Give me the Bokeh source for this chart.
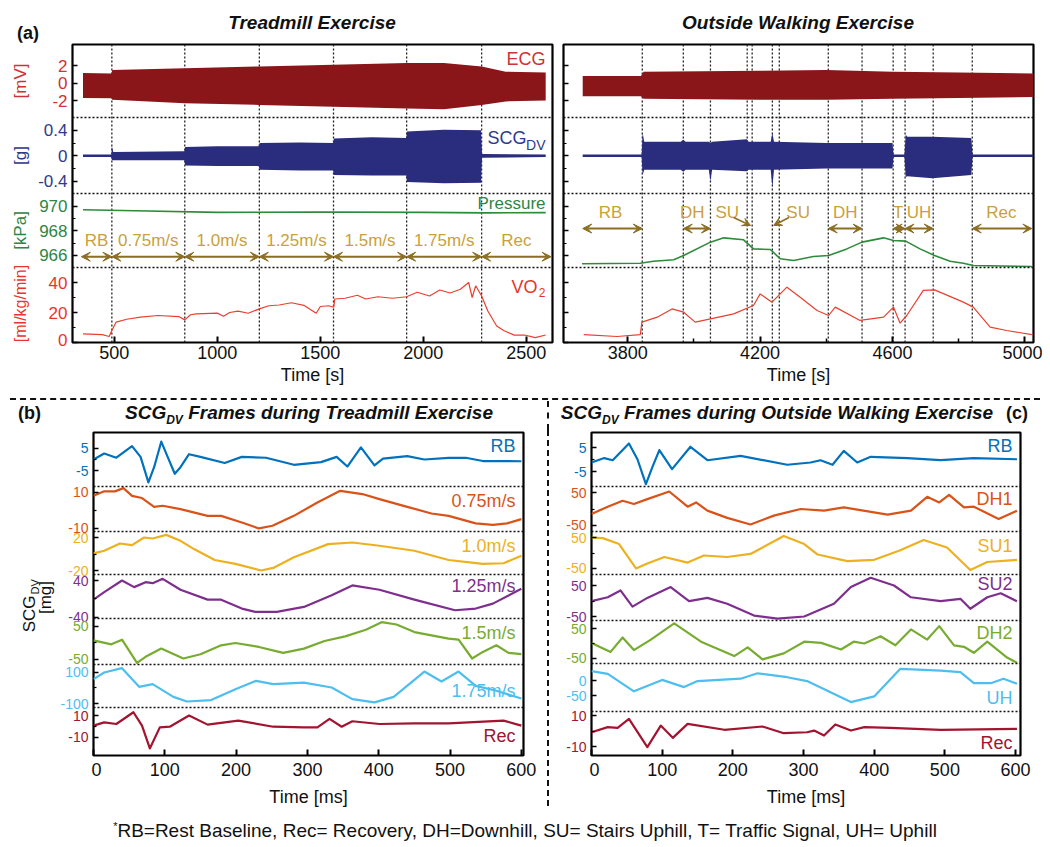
from bokeh.plotting import figure
from bokeh.layouts import column, row
from bokeh.models import (Range1d, FixedTicker, Span, Label, Arrow, VeeHead,
                          ColumnDataSource, Div, LinearAxis)
from bokeh.embed import file_html
from bokeh.resources import INLINE
from bokeh.core.properties import value
import math

FONT = "Liberation Sans"

# ======================= DATA =======================
# ---- (a) Treadmill exercise ----
tm_bounds = [488, 842, 1204, 1564, 1919, 2283]
tm_arrow_edges = [340, 488, 842, 1204, 1564, 1919, 2283, 2620]
tm_stages = ["RB", "0.75m/s", "1.0m/s", "1.25m/s", "1.5m/s", "1.75m/s", "Rec"]
tm_ecg_t = [348, 486, 490, 842, 1204, 1564, 1919, 2100, 2283, 2400, 2594]
tm_ecg_hi = [1.14, 1.1, 1.5, 1.7, 1.9, 2.1, 2.3, 2.3, 1.9, 1.3, 1.2]
tm_ecg_lo = [-1.7, -1.75, -1.9, -2.3, -2.5, -2.7, -2.9, -3.0, -2.5, -2.1, -2.0]
tm_scg_t = [348, 486, 488, 495, 840, 844, 1000, 1200, 1206, 1400, 1562, 1566, 1750, 1917, 1921, 2100, 2280, 2285, 2594]
tm_scg_hi = [0.02, 0.02, 0.15, 0.06, 0.07, 0.14, 0.15, 0.15, 0.2, 0.21, 0.2, 0.27, 0.29, 0.28, 0.38, 0.41, 0.4, 0.03, 0.02]
tm_scg_lo = [-0.02, -0.02, -0.07, -0.07, -0.07, -0.15, -0.16, -0.16, -0.22, -0.23, -0.23, -0.3, -0.31, -0.31, -0.41, -0.43, -0.42, -0.03, -0.02]
tm_p_t = [348, 600, 1000, 1500, 2000, 2300, 2594]
tm_p_v = [969.73, 969.65, 969.52, 969.55, 969.52, 969.48, 969.5]
tm_vo2_t = [348, 441, 475, 488, 509, 560, 627, 712, 813, 842, 870, 898, 1000, 1030, 1060, 1101, 1150,
            1204, 1250, 1300, 1360, 1420, 1480, 1500, 1540, 1565, 1570, 1620, 1680, 1720, 1780, 1850,
            1919, 1970, 2030, 2080, 2130, 2180, 2220, 2237, 2254, 2283, 2313, 2356, 2390, 2441, 2492,
            2543, 2594]
tm_vo2_v = [5.8, 5.3, 4.0, 8.0, 13.6, 15.5, 16.9, 18.0, 17.3, 15.1, 18.5, 19.1, 19.6, 17.5, 20.0, 20.9, 19.5,
            22.4, 24.5, 25.0, 26.5, 24.8, 19.5, 24.0, 24.5, 23.5, 29.0, 29.5, 31.5, 29.0, 30.5, 29.5,
            30.5, 33.5, 31.0, 35.0, 33.0, 35.5, 40.0, 30.0, 37.8, 31.0, 21.0, 11.0, 8.0, 4.9, 5.0,
            3.3, 5.0]

# ---- (a) Outside walking exercise ----
ow_bounds = [3844, 3968, 4050, 4161, 4176, 4237, 4258, 4406, 4508, 4602, 4638, 4723, 4841]
ow_arrow_x0 = [3664, 3968, 4406, 4602, 4638, 4841]
ow_arrow_x1 = [3844, 4050, 4508, 4638, 4723, 5021]
ow_su_x0 = [4120, 4287]
ow_su_y0 = [969.1, 969.1]
ow_su_x1 = [4171, 4241]
ow_su_y1 = [968.45, 968.45]
ow_stages = ["RB", "DH", "SU", "SU", "DH", "T", "UH", "Rec"]
ow_stage_x = [3748, 3995, 4101, 4315, 4457, 4617, 4680, 4929]
ow_ecg_t = [3664, 3840, 3848, 4200, 4400, 4600, 4800, 5026]
ow_ecg_hi = [0.8, 0.8, 1.3, 1.4, 1.5, 1.3, 1.2, 1.1]
ow_ecg_lo = [-1.5, -1.5, -1.8, -1.9, -1.9, -1.8, -1.7, -1.6]
ow_scg_t = [3664, 3842, 3845, 3850, 3960, 3968, 3975, 4045, 4050, 4055, 4160, 4165, 4232, 4237, 4242,
            4400, 4600, 4603, 4636, 4640, 4645, 4720, 4838, 4842, 5026]
ow_scg_hi = [0.02, 0.02, 0.36, 0.22, 0.22, 0.25, 0.22, 0.22, 0.2, 0.22, 0.26, 0.22, 0.22, 0.36, 0.22,
             0.2, 0.2, 0.02, 0.02, 0.33, 0.3, 0.3, 0.28, 0.02, 0.02]
ow_scg_lo = [-0.02, -0.02, -0.3, -0.22, -0.22, -0.25, -0.22, -0.22, -0.4, -0.22, -0.24, -0.22, -0.22, -0.5, -0.22,
             -0.2, -0.2, -0.02, -0.02, -0.33, -0.32, -0.35, -0.3, -0.02, -0.02]
ow_p_t = [3662, 3838, 3878, 3939, 3969, 4050, 4090, 4150, 4180, 4231, 4261, 4301, 4361, 4407, 4462,
          4508, 4573, 4603, 4640, 4683, 4727, 4774, 4814, 4844, 5021]
ow_p_v = [965.32, 965.37, 965.53, 965.65, 966.0, 967.09, 967.44, 967.28, 966.54, 966.49, 965.73, 965.59,
          965.92, 966.0, 966.54, 967.09, 967.44, 967.22, 967.17, 966.54, 966.0, 965.53, 965.37, 965.18, 965.1]
ow_vo2_t = [3667, 3768, 3838, 3843, 3889, 3934, 3969, 4004, 4050, 4120, 4180, 4200, 4236, 4281, 4321,
            4372, 4407, 4427, 4502, 4573, 4603, 4623, 4643, 4693, 4727, 4814, 4844, 4895, 4945, 5021]
ow_vo2_v = [5.3, 4.0, 5.3, 13.6, 16.9, 22.4, 20.2, 13.6, 15.8, 19.1, 24.7, 32.4, 26.9, 36.9, 30.2,
            21.3, 18.0, 23.6, 14.7, 16.9, 23.6, 12.9, 18.0, 34.7, 35.1, 26.9, 23.6, 10.2, 8.0, 5.3]

# ---- (b) SCG frames, treadmill (ms, mg) ----
tm_names = ["RB", "0.75m/s", "1.0m/s", "1.25m/s", "1.5m/s", "1.75m/s", "Rec"]
tm_rb_t = [0, 15, 32, 54, 66, 77, 85, 95, 105, 114, 122, 134, 150, 184, 208, 242, 281, 319, 341, 356, 375, 394, 406, 440, 464, 498, 522, 546, 600]
tm_rb_v = [0, 2.7, 0.8, 6.1, 1.2, -10.4, -3.5, 8.1, 0.4, -6.5, -3.5, 2.4, 1.2, -1.6, 1.2, 0.8, -2.4, -1.2, 1.2, -3.2, 5.5, -2.7, 0.4, 1.5, 0, 0.7, 0.8, -0.7, -0.8]
tm_075_t = [0, 15, 30, 42, 54, 68, 85, 97, 122, 160, 179, 208, 232, 251, 281, 314, 346, 377, 401, 440, 474, 498, 536, 560, 580, 600]
tm_075_v = [8.1, 10.6, 10.6, 12.4, 8.1, 6.9, 2.0, 2.6, 0.7, -3.0, -3.0, -6.7, -10, -8.5, -3.0, 4.4, 10.9, 9.1, 6.3, 2.0, -1.7, -3.0, -7.2, -8.0, -7.2, -4.8]
tm_10_t = [0, 15, 37, 54, 71, 83, 102, 122, 141, 170, 199, 235, 252, 281, 329, 363, 401, 450, 498, 546, 575, 600]
tm_10_v = [0.8, 4, 12.8, 10.8, 20, 18.8, 23.2, 16, 6, -7.2, -12, -20, -16.8, -4, 12, 14, 10, 4, -7.2, -12, -11.2, -2]
tm_125_t = [0, 15, 40, 57, 73, 83, 97, 122, 160, 179, 208, 227, 257, 295, 334, 363, 401, 450, 507, 536, 560, 600]
tm_125_v = [-1.4, 15, 40, 25.7, 36.4, 34.3, 43.6, 20, -1.4, -1.4, -20.7, -27.9, -27.9, -17.1, 7.9, 29.3, 20, -1.4, -24.3, -20.7, -10, 22]
tm_15_t = [0, 25, 40, 61, 73, 95, 126, 150, 179, 199, 232, 266, 295, 324, 353, 382, 404, 425, 450, 498, 512, 531, 546, 565, 582, 600]
tm_15_v = [8, -4, 10, -60, -42, -17, -47, -34, -7, 0, -12, -30, -17, 6, 20, 40, 63, 56, 33, 13, 10, -47, -27, -7, -30, -34]
tm_175_t = [0, 15, 40, 64, 83, 112, 131, 165, 199, 228, 252, 295, 334, 363, 394, 421, 464, 488, 512, 536, 565, 600]
tm_175_v = [57, 100, 128, 7.5, 25, -57, -87, -78, -7.5, 46, 25, 35, 3, -72, -93, -57, 106, 42, 106, 14, -18, -68]
tm_rec_t = [0, 15, 32, 56, 68, 79, 93, 107, 134, 160, 203, 252, 295, 314, 331, 348, 363, 401, 450, 498, 575, 600]
tm_rec_v = [0.8, 3.8, 2.3, 13, 0.8, -20, -0.8, -0.2, 10, 1.7, 5.4, -0.2, -0.8, -0.8, 6.9, -0.2, 4.8, 2.3, 2.9, 2.9, 5.4, 0.8]
tm_ticks = [[-5, 5], [-10, 10], [-20, 20], [-40, 40], [-50, 50], [-100, 100], [-10, 10]]

# ---- (c) SCG frames, outside walking (ms, mg) ----
ow_names = ["RB", "DH1", "SU1", "SU2", "DH2", "UH", "Rec"]
ow_rb_t = [0, 18, 30, 53, 65, 77, 86, 96, 114, 140, 164, 211, 277, 310, 324, 341, 357, 376, 395, 447, 494, 541, 602]
ow_rb_v = [-1.25, 0.6, -0.3, 6.7, 0.1, -10.3, -3.3, 3.9, -4, 5.3, -0.3, 1.5, -2.2, -1.25, -0.3, -2.2, 3.6, -1.25, 1.1, 0.6, -0.3, 0.6, 0.1]
ow_dh1_t = [0, 23, 44, 60, 79, 110, 136, 148, 164, 192, 225, 258, 296, 329, 357, 419, 452, 475, 492, 506, 527, 541, 576, 602]
ow_dh1_v = [-15, 7, 25, 15, 30, 53, 7, 20, -5, -27, -47, -20, 0, -5, 5, -17, -5, 37, 20, 43, 5, 7, -30, -5]
ow_su1_t = [0, 16, 39, 63, 79, 103, 136, 159, 192, 225, 272, 301, 320, 362, 400, 436, 470, 503, 536, 560, 602]
ow_su1_v = [50, 48, 29, -50, -34, -13, -31, -8, -13, -3, 55, 29, -5, -26, -22, 8, 42, 18, -55, -29, -22]
ow_su2_t = [0, 23, 41, 58, 79, 112, 138, 164, 192, 230, 263, 301, 343, 367, 395, 428, 452, 494, 522, 536, 560, 579, 602]
ow_su2_v = [-0.5, 12, 34, -18, 10, 45, -0.5, 10, -9, -47, -57, -50, -9, 45, 75, 50, 12, -0.5, 7, -25, 12, 25, -0.5]
ow_dh2_t = [0, 27, 44, 60, 84, 117, 155, 202, 221, 242, 272, 301, 325, 353, 371, 386, 409, 430, 452, 475, 492, 513, 527, 541, 560, 588, 602]
ow_dh2_v = [2, -28, 20, -22, 13, 67, 6, -42, -13, -53, -33, 6, 2, -20, 6, 0, 24, -6, 47, 13, 58, -6, -11, -31, 6, -47, -64]
ow_uh_t = [0, 23, 60, 100, 131, 150, 211, 235, 277, 305, 367, 400, 437, 494, 522, 541, 565, 583, 602]
ow_uh_v = [31, 22, -36, 2, -22, -2, 6, 24, 11, -2, -72, -53, 39, 33, 28, -9, -9, 6, -11]
ow_rec_t = [0, 23, 37, 53, 79, 98, 115, 136, 188, 242, 272, 305, 315, 329, 345, 367, 386, 423, 494, 602]
ow_rec_v = [-0.8, 2.5, 2.0, 7.8, -10.4, 3.5, -4.4, 4.6, 0.8, 2.9, -1.4, -0.8, 0.3, -2.9, 4.2, 0.3, 2.5, 2.0, 0.8, 1.4]
ow_ticks = [[-5, 5], [-50, 50], [-50, 50], [-50, 50], [-50, 50], [-50, 0], [-10, 10]]

top_x_ticks_tm = [500, 1000, 1500, 2000, 2500]
top_x_ticks_ow = [3800, 4200, 4600, 5000]
top_x_minor_ow = [4000, 4400, 4800]
ms_ticks = [0, 100, 200, 300, 400, 500, 600]

# ======================= STYLE / LAYOUT =======================
C_ECG, C_ECG_T = "#8A161A", "#CC3333"
C_SCG, C_SCG_T = "#2A2C7E", "#2E3A8C"
C_PR, C_PR_T = "#2E8B3A", "#2E8545"
C_VO, C_VO_T = "#E8402F", "#E8352B"
C_ARW, C_STG = "#8C6E22", "#C9A13C"
MCOL = ["#0072BD", "#D95319", "#EDB120", "#7E2F8E", "#77AC30", "#4DBEEE", "#A2142F"]

TOP_H, TOP_MB = 298, 56
top_keys = ["ecg", "scg", "p", "vo2"]
top_px = {"ecg": (225, 298), "scg": (149, 225), "p": (75, 149), "vo2": (0, 75)}
top_rng = {"ecg": (-3.94, 4.4), "scg": (-0.59, 0.60), "p": (965.02, 971.06), "vo2": (0.0, 50.0)}
top_ticks = {"ecg": [-2, 0, 2], "scg": [-0.4, 0, 0.4], "p": [966, 968, 970], "vo2": [0, 20, 40]}
top_minor = {"ecg": [], "scg": [-0.2, 0.2], "p": [967, 969], "vo2": [10, 30]}
top_tcol = {"ecg": C_ECG_T, "scg": C_SCG_T, "p": C_PR_T, "vo2": C_VO_T}
top_units = {"ecg": "[mV]", "scg": "[g]", "p": "[kPa]", "vo2": "[ml/kg/min]"}

BOT_H, BOT_MB = 323, 60
bl_px = [(269, 323), (224, 269), (181, 224), (137, 181), (91, 137), (48, 91), (0, 48)]
bl_rng = [(-12.27, 12.27), (-11.7, 13.3), (-24.8, 27.3), (-42.2, 53.0), (-65.2, 74.2), (-125.8, 151.6), (-26.4, 17.3)]
bl_lab_dy = [13, 14, 14, 11, 14, 26, 28]
br_px = [(269, 323), (224, 269), (181, 224), (135, 181), (92, 135), (44, 92), (0, 44)]
br_rng = [(-11.25, 11.25), (-68.2, 68.2), (-69.4, 69.4), (-62.9, 85.5), (-66.7, 76.7), (-103.3, 56.7), (-15.8, 12.6)]
br_lab_dy = [13, 12, 14, 9, 12, 34, 31]


def fmt(v):
    return "%g" % v


def full_range(H, px, rng):
    b, t = px
    lo, hi = rng
    s = (hi - lo) / (t - b)
    return Range1d(start=lo - b * s, end=hi + (H - t) * s)


def base_fig(width, height, xr, H, ml, mr, mt, mb):
    p = figure(width=width, height=height, x_range=Range1d(*xr), y_range=Range1d(0, H),
               y_axis_type=None, output_backend="svg", toolbar_location=None,
               min_border_left=ml, min_border_right=mr, min_border_top=mt, min_border_bottom=mb)
    p.outline_line_color = "black"
    p.outline_line_width = 2.2
    p.background_fill_color = "white"
    p.border_fill_color = "white"
    p.xgrid.visible = False
    return p


def strip_fig(W, mt, H, mb, pxs, rngs, keys, with_xaxis=False):
    """Narrow figure left of a panel carrying its tick labels and axis titles
    (same frame height as the panel, same band scales)."""
    s = figure(width=W, height=mt + H + mb, x_range=Range1d(0, W), y_range=Range1d(0, H),
               x_axis_type=("linear" if with_xaxis else None), y_axis_type=None,
               output_backend="svg", toolbar_location=None,
               min_border_left=0, min_border_right=0, min_border_top=mt, min_border_bottom=mb)
    s.outline_line_color = None
    s.background_fill_color = "white"
    s.border_fill_color = "white"
    s.xgrid.visible = False
    s.extra_y_ranges = {k: full_range(H, pxs[i], rngs[i]) for i, k in enumerate(keys)}
    return s


def strip_ticks(s, key, ticks, color, size, xpos):
    s.text(x=[xpos] * len(ticks), y=ticks, text=[fmt(v) for v in ticks], y_range_name=key,
           text_align="right", text_baseline="middle", text_font=value(FONT),
           text_font_size=size, text_color=color)


def strip_text(s, x, y, text, color, size, align="center", angle=0.0):
    s.text(x=[x], y=[y], text=[text], angle=angle, text_align=align, text_baseline="middle",
           text_font=value(FONT), text_font_size=size, text_color=color)


def add_band_axis(p, key, ticks, minor):
    ax = LinearAxis(y_range_name=key, ticker=FixedTicker(ticks=ticks, minor_ticks=minor),
                    axis_line_color=None, major_tick_in=5, major_tick_out=0,
                    minor_tick_in=3, minor_tick_out=0, major_tick_line_width=1.6,
                    minor_tick_line_width=1.2, major_label_text_font_size="0px",
                    major_label_standoff=0)
    ax.major_label_overrides = {v: "" for v in ticks}
    p.add_layout(ax, "left")


def style_xaxis(p, ticks, minor, label, tsize, lsize, tstand, lstand):
    xa = p.xaxis[0]
    xa.ticker = FixedTicker(ticks=ticks, minor_ticks=minor)
    xa.axis_line_color = None
    xa.major_tick_in = 6
    xa.major_tick_out = 0
    xa.minor_tick_in = 4
    xa.minor_tick_out = 0
    xa.major_tick_line_width = 2
    xa.minor_tick_line_width = 1.5
    xa.major_label_text_font = FONT
    xa.major_label_text_font_size = tsize
    xa.major_label_text_color = "#111111"
    xa.major_label_standoff = tstand
    xa.axis_label = label
    xa.axis_label_text_font = FONT
    xa.axis_label_text_font_size = lsize
    xa.axis_label_text_font_style = "normal"
    xa.axis_label_text_color = "#111111"
    xa.axis_label_standoff = lstand


def sep_spans(p, bottoms):
    for b in bottoms:
        if b > 0:
            p.add_layout(Span(location=b, dimension="width", line_color="#111111",
                              line_width=1.6, line_dash="2 2"))


def vert_spans(p, xs):
    for x in xs:
        p.add_layout(Span(location=x, dimension="height", line_color="#222222",
                          line_width=1.3, line_dash="2 2", level="underlay"))


def top_panel(width, ml, mr, xr):
    p = base_fig(width, 2 + TOP_H + TOP_MB, xr, TOP_H, ml, mr, 2, TOP_MB)
    p.extra_y_ranges = {k: full_range(TOP_H, top_px[k], top_rng[k]) for k in top_keys}
    for k in top_keys:
        add_band_axis(p, k, top_ticks[k], top_minor[k])
    sep_spans(p, [top_px[k][0] for k in top_keys])
    return p


# ---------------- top-left strip (tick labels + units) ----------------
sa = strip_fig(62, 2, TOP_H, TOP_MB, [top_px[k] for k in top_keys], [top_rng[k] for k in top_keys],
               top_keys, with_xaxis=True)
for k in top_keys:
    lo_k = top_rng[k][0]
    inner = [v for v in top_ticks[k] if not (top_px[k][0] == 0 and v == lo_k)]
    strip_ticks(sa, k, inner, top_tcol[k], "17px", 59)
    b, t = top_px[k]
    strip_text(sa, 12, (b + t) / 2 + (1.5 if b == 0 else 0), top_units[k], top_tcol[k],
               "16px" if b == 0 else "17px", angle=math.pi / 2)
# the bottom-most tick label ("0" of VO2) sits on the frame edge: drawn by the strip's x-axis
sx = sa.xaxis[0]
sx.ticker = FixedTicker(ticks=[54.3])
sx.major_label_overrides = {54.3: fmt(top_ticks["vo2"][0])}
sx.axis_line_color = None
sx.major_tick_line_color = None
sx.minor_tick_line_color = None
sx.major_tick_out = 0
sx.major_tick_in = 0
sx.major_label_text_font = FONT
sx.major_label_text_font_size = "17px"
sx.major_label_text_color = C_VO_T
try:
    sx.major_label_standoff = -9
except Exception:
    sx.major_label_standoff = 0

# ---------------- top-left: treadmill ----------------
XR_TM = (297, 2627)
XR_OW = (3606, 5026)
pa = top_panel(486, 2, 4, XR_TM)
vert_spans(pa, tm_bounds)
pa.varea(x=tm_ecg_t, y1=tm_ecg_lo, y2=tm_ecg_hi, fill_color=C_ECG, y_range_name="ecg")
pa.varea(x=tm_scg_t, y1=tm_scg_lo, y2=tm_scg_hi, fill_color=C_SCG, y_range_name="scg")
pa.line(tm_p_t, tm_p_v, line_color=C_PR, line_width=1.6, y_range_name="p")
pa.line(tm_vo2_t, tm_vo2_v, line_color=C_VO, line_width=1.2, y_range_name="vo2")
tm_mid = [(a + b) / 2 for a, b in zip(tm_arrow_edges[:-1], tm_arrow_edges[1:])]
pa.text(x=tm_mid, y=[967.25] * len(tm_mid), text=tm_stages, y_range_name="p",
        text_align="center", text_baseline="middle", text_font=value(FONT),
        text_font_size="17px", text_color=C_STG)
src_a = ColumnDataSource(dict(x0=tm_arrow_edges[:-1], x1=tm_arrow_edges[1:], y=[965.9] * len(tm_mid)))
pa.add_layout(Arrow(x_start="x0", y_start="y", x_end="x1", y_end="y", source=src_a,
                    start=VeeHead(size=9, fill_color=C_ARW, line_color=C_ARW),
                    end=VeeHead(size=9, fill_color=C_ARW, line_color=C_ARW),
                    line_color=C_ARW, line_width=2, y_range_name="p"))
style_xaxis(pa, top_x_ticks_tm, [], "Time [s]", "18px", "18px", 3, 3)
# band names
pa.add_layout(Label(x=XR_TM[1], y=284, x_offset=-7, text="ECG", text_align="right", text_baseline="middle",
                    text_color=C_ECG_T, text_font=FONT, text_font_size="18px"))
pa.add_layout(Label(x=XR_TM[1], y=205, x_offset=-26, text="SCG", text_align="right", text_baseline="middle",
                    text_color=C_SCG_T, text_font=FONT, text_font_size="18px"))
pa.add_layout(Label(x=XR_TM[1], y=198, x_offset=-7, text="DV", text_align="right", text_baseline="middle",
                    text_color=C_SCG_T, text_font=FONT, text_font_size="14px"))
pa.add_layout(Label(x=XR_TM[1], y=139.5, x_offset=-7, text="Pressure", text_align="right", text_baseline="middle",
                    text_color=C_PR_T, text_font=FONT, text_font_size="17px"))
pa.add_layout(Label(x=XR_TM[1], y=55.5, x_offset=-15, text="VO", text_align="right", text_baseline="middle",
                    text_color=C_VO_T, text_font=FONT, text_font_size="18px"))
pa.add_layout(Label(x=XR_TM[1], y=50, x_offset=-7, text="2", text_align="right", text_baseline="middle",
                    text_color=C_VO_T, text_font=FONT, text_font_size="12px"))

# ---------------- top-right: outside walking ----------------
pb = top_panel(486, 7, 9, XR_OW)
vert_spans(pb, ow_bounds)
pb.varea(x=ow_ecg_t, y1=ow_ecg_lo, y2=ow_ecg_hi, fill_color=C_ECG, y_range_name="ecg")
pb.varea(x=ow_scg_t, y1=ow_scg_lo, y2=ow_scg_hi, fill_color=C_SCG, y_range_name="scg")
pb.line(ow_p_t, ow_p_v, line_color=C_PR, line_width=1.6, y_range_name="p")
pb.line(ow_vo2_t, ow_vo2_v, line_color=C_VO, line_width=1.2, y_range_name="vo2")
pb.text(x=ow_stage_x, y=[969.5] * len(ow_stage_x), text=ow_stages, y_range_name="p",
        text_align="center", text_baseline="middle", text_font=value(FONT),
        text_font_size="17px", text_color=C_STG)
src_b = ColumnDataSource(dict(x0=ow_arrow_x0, x1=ow_arrow_x1, y=[968.2] * len(ow_arrow_x0)))
pb.add_layout(Arrow(x_start="x0", y_start="y", x_end="x1", y_end="y", source=src_b,
                    start=VeeHead(size=9, fill_color=C_ARW, line_color=C_ARW),
                    end=VeeHead(size=9, fill_color=C_ARW, line_color=C_ARW),
                    line_color=C_ARW, line_width=2, y_range_name="p"))
src_su = ColumnDataSource(dict(x0=ow_su_x0, y0=ow_su_y0, x1=ow_su_x1, y1=ow_su_y1))
pb.add_layout(Arrow(x_start="x0", y_start="y0", x_end="x1", y_end="y1", source=src_su, start=None,
                    end=VeeHead(size=8, fill_color=C_ARW, line_color=C_ARW),
                    line_color=C_ARW, line_width=1.6, y_range_name="p"))
style_xaxis(pb, top_x_ticks_ow, top_x_minor_ow, "Time [s]", "18px", "18px", 3, 3)


# ---------------- bottom panels ----------------
def bottom_panel(width, ml, mr, xr, px, rng, ticks, names, series, dys):
    p = base_fig(width, 2 + BOT_H + BOT_MB, xr, BOT_H, ml, mr, 2, BOT_MB)
    keys = ["b%d" % i for i in range(len(names))]
    p.extra_y_ranges = {k: full_range(BOT_H, px[i], rng[i]) for i, k in enumerate(keys)}
    for i, k in enumerate(keys):
        add_band_axis(p, k, ticks[i], [0] if 0 not in ticks[i] else [])
        t_, v_ = series[i]
        p.line(t_, v_, line_color=MCOL[i], line_width=2.2, line_join="round", y_range_name=k)
        p.add_layout(Label(x=xr[1], y=px[i][1] - dys[i], x_offset=-8, text=names[i],
                           text_align="right", text_baseline="middle", text_color=MCOL[i],
                           text_font=FONT, text_font_size="18px"))
    sep_spans(p, [b for b, t in px])
    style_xaxis(p, ms_ticks, [], "Time [ms]", "18px", "18px", 7, 8)
    return p


def bottom_strip(W, px, rng, ticks, xpos):
    keys = ["b%d" % i for i in range(len(px))]
    s = strip_fig(W, 2, BOT_H, BOT_MB, px, rng, keys)
    for i, k in enumerate(keys):
        strip_ticks(s, k, ticks[i], MCOL[i], "14px", xpos)
    return s


XR_BL = (0, 603)
XR_BR = (0, 607)
sc = bottom_strip(83, bl_px, bl_rng, tm_ticks, 80)
strip_text(sc, 20.5, 160, "SCG", "#111111", "17px", align="right", angle=math.pi / 2)
strip_text(sc, 26, 161, "DV", "#111111", "11px", align="left", angle=math.pi / 2)
strip_text(sc, 37, 158, "[mg]", "#111111", "17px", align="center", angle=math.pi / 2)
pc = bottom_panel(449, 2, 17, XR_BL, bl_px, bl_rng, tm_ticks, tm_names,
                  [(tm_rb_t, tm_rb_v), (tm_075_t, tm_075_v), (tm_10_t, tm_10_v), (tm_125_t, tm_125_v),
                   (tm_15_t, tm_15_v), (tm_175_t, tm_175_v), (tm_rec_t, tm_rec_v)], bl_lab_dy)

sd = bottom_strip(33, br_px, br_rng, ow_ticks, 30)
pd = bottom_panel(453, 2, 22, XR_BR, br_px, br_rng, ow_ticks, ow_names,
                  [(ow_rb_t, ow_rb_v), (ow_dh1_t, ow_dh1_v), (ow_su1_t, ow_su1_v), (ow_su2_t, ow_su2_v),
                   (ow_dh2_t, ow_dh2_v), (ow_uh_t, ow_uh_v), (ow_rec_t, ow_rec_v)], br_lab_dy)

# ---------------- Divs (titles, separators, footnote) ----------------
FF = "font-family:'Liberation Sans',Arial,sans-serif;color:#111;"


def mk_div(html, w, h):
    return Div(text=html, width=w, height=h, margin=(0, 0, 0, 0))


top_title = mk_div(
    '<div style="position:relative;width:1034px;height:34px;%s">'
    '<div style="position:absolute;left:9px;top:15px;font-size:18px;font-weight:bold;line-height:20px;">(a)</div>'
    '<div style="position:absolute;left:64px;width:480px;top:4px;text-align:center;font-size:19px;'
    'font-weight:bold;font-style:italic;line-height:22px;white-space:nowrap;">Treadmill Exercise</div>'
    '<div style="position:absolute;left:550px;width:480px;top:4px;text-align:center;font-size:19px;'
    'font-weight:bold;font-style:italic;line-height:22px;white-space:nowrap;">Outside Walking Exercise</div>'
    '</div>' % FF, 1034, 34)

bot_title = mk_div(
    '<div style="position:relative;width:1034px;height:32px;%s">'
    '<div style="position:absolute;left:2px;top:0px;width:1030px;border-top:2px dashed #111;"></div>'
    '<div style="position:absolute;left:10px;top:5px;font-size:18px;font-weight:bold;line-height:20px;">(b)</div>'
    '<div style="position:absolute;left:81px;width:440px;top:4px;text-align:center;font-size:19px;'
    'font-weight:bold;font-style:italic;line-height:22px;white-space:nowrap;">'
    'SCG<sub style="font-size:12px;">DV</sub> Frames during Treadmill Exercise</div>'
    '<div style="position:absolute;left:539px;top:3px;height:29px;border-left:2px dashed #111;"></div>'
    '<div style="position:absolute;left:539px;width:460px;top:4px;text-align:center;font-size:19px;'
    'font-weight:bold;font-style:italic;line-height:22px;white-space:nowrap;">'
    'SCG<sub style="font-size:12px;">DV</sub> Frames during Outside Walking Exercise</div>'
    '<div style="position:absolute;left:998px;top:5px;font-size:18px;font-weight:bold;line-height:20px;">(c)</div>'
    '</div>' % FF, 1034, 32)

vsep = mk_div('<div style="position:relative;width:16px;height:385px;">'
              '<div style="position:absolute;left:7px;top:0px;height:376px;border-left:2px dashed #111;"></div></div>',
              16, 385)

foot = mk_div(
    '<div style="width:1034px;height:24px;text-align:center;font-size:19px;line-height:22px;%s">'
    '<sup style="font-size:11px;">*</sup>RB=Rest Baseline, Rec= Recovery, DH=Downhill, SU= Stairs Uphill, '
    'T= Traffic Signal, UH= Uphill</div>' % FF, 1034, 24)

layout = column(top_title, row(sa, pa, pb, spacing=0), bot_title,
                row(sc, pc, vsep, sd, pd, spacing=0), foot, spacing=0, margin=(8, 8, 8, 8))

open("out.html", "w").write(file_html(layout, INLINE, title="SCG exercise"))
